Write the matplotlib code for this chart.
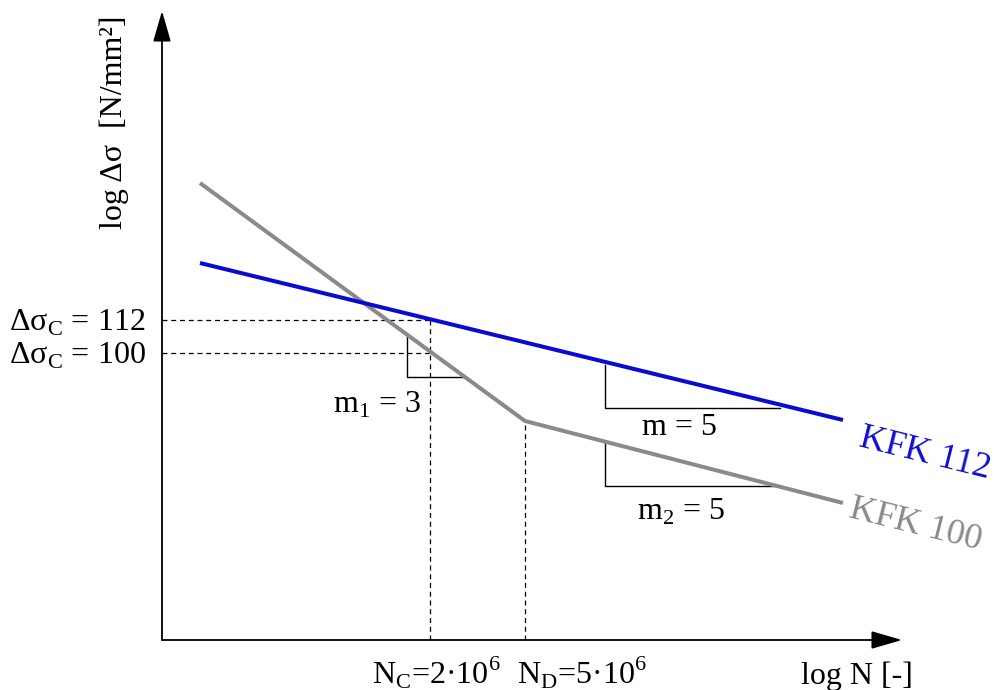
import matplotlib
matplotlib.use("Agg")
import matplotlib.pyplot as plt

# schematic S-N diagram (Wöhler curve), units are arbitrary "log" units
plt.rcParams['font.family'] = ['Liberation Serif', 'DejaVu Serif']
plt.rcParams['mathtext.fontset'] = 'custom'
plt.rcParams['mathtext.rm'] = 'Liberation Serif'

# --- data ---
kfk112_x = [0.38, 6.81]
kfk112_y = [3.77, 2.20]
kfk100_x = [0.38, 3.63, 6.81]
kfk100_y = [4.57, 2.19, 1.37]

dsc_levels = [3.20, 2.87]          # delta sigma_C = 112 / 100
dsc_labels = ['Δσ$_\\mathregular{C}$ = 112', 'Δσ$_\\mathregular{C}$ = 100']
n_c = 2.68
n_d = 3.63

# slope triangles: corner x, top y, bottom y, right x
tri_x = [2.45, 4.43, 4.43]
tri_top = [3.04, 2.75, 1.98]
tri_bot = [2.63, 2.32, 1.54]
tri_right = [3.01, 6.18, 6.18]
tri_labels = ['m$_\\mathregular{1}$ = 3', 'm = 5', 'm$_\\mathregular{2}$ = 5']

x_end = 7.40
y_end = 6.29

BLUE = '#0a0ad2'
GRAY = '#8a8a8a'
FS = 23

fig = plt.figure(figsize=(9.95, 6.9), dpi=100)
ax = fig.add_axes([0, 0, 1, 1])
ax.set_xlim(-1.62, 8.33)
ax.set_ylim(-0.50, 6.40)
ax.axis('off')

# axes with arrow heads
arr = dict(arrowstyle='-|>,head_length=1.9,head_width=0.55', mutation_scale=10,
           lw=1.3, color='black', shrinkA=0, shrinkB=0)
ax.annotate('', xy=(x_end, 0), xytext=(0, 0), arrowprops=arr)
ax.annotate('', xy=(0, y_end), xytext=(0, 0), arrowprops=arr)

# dashed helper lines
for lev in dsc_levels:
    ax.plot([0, n_c], [lev, lev], color='black', lw=0.9, ls=(0, (4, 3)))
ax.plot([n_c, n_c], [0, dsc_levels[0]], color='black', lw=0.9, ls=(0, (4, 3)))
ax.plot([n_d, n_d], [0, kfk100_y[1]], color='black', lw=0.9, ls=(0, (4, 3)))

# slope triangles
for i in range(len(tri_x)):
    ax.plot([tri_x[i], tri_x[i], tri_right[i]], [tri_top[i], tri_bot[i], tri_bot[i]],
            color='black', lw=1.0)

# curves
ax.plot(kfk100_x, kfk100_y, color=GRAY, lw=2.9, solid_capstyle='butt')
ax.plot(kfk112_x, kfk112_y, color=BLUE, lw=2.9, solid_capstyle='butt')

# labels
for lev, lab in zip(dsc_levels, dsc_labels):
    ax.text(-1.53, lev - 0.11, lab, fontsize=FS, ha='left', va='baseline')

ax.text(1.71, 2.27, tri_labels[0], fontsize=FS, ha='left', va='baseline')
ax.text(4.80, 2.05, tri_labels[1], fontsize=FS, ha='left', va='baseline')
ax.text(4.75, 1.20, tri_labels[2], fontsize=FS, ha='left', va='baseline')

ax.text(6.96, 1.94, 'KFK 112', fontsize=26, color='#1010d0', rotation=-14,
        rotation_mode='anchor', ha='left', va='baseline')
ax.text(6.86, 1.23, 'KFK 100', fontsize=26, color=GRAY, rotation=-14,
        rotation_mode='anchor', ha='left', va='baseline')

ax.text(2.10, -0.44, 'N$_\\mathregular{C}$=2·10$^\\mathregular{6}$', fontsize=FS,
        ha='left', va='baseline')
ax.text(3.55, -0.44, 'N$_\\mathregular{D}$=5·10$^\\mathregular{6}$', fontsize=FS,
        ha='left', va='baseline')
ax.text(6.39, -0.44, 'log N [-]', fontsize=FS, ha='left', va='baseline')
ax.text(-0.48, 5.18, 'log Δσ  [N/mm²]', fontsize=FS, rotation=90,
        ha='center', va='center')

fig.savefig('out.png', dpi=100)
